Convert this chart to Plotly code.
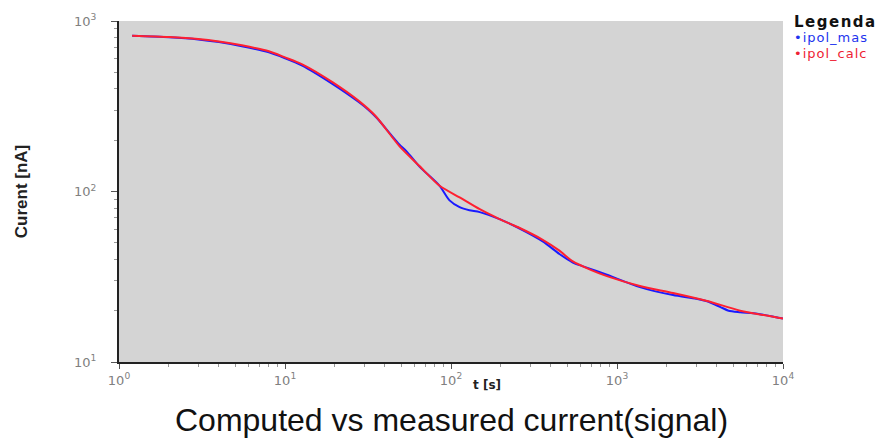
import plotly.graph_objects as go

# measured current (ipol_mas)
t_mas = [1.2, 2.0, 3.0, 4.0, 5.5, 8.0, 10, 12.7, 19.3, 27.8, 32, 36, 44, 49, 54, 64.6, 85.4, 98, 112.7, 129, 149, 196, 252, 357, 450, 542, 624, 869, 1374, 2175, 3000, 3490, 4200, 4700, 5520, 7000, 9350, 10000]
i_mas = [819, 803, 780, 752, 712, 655, 605, 548, 428, 335, 300, 268, 212, 188, 172, 140, 108, 88.7, 80.9, 77.6, 75.7, 68.9, 61.5, 51, 43, 38.3, 36.4, 32.5, 27.5, 24.7, 23.5, 22.7, 21.0, 20.0, 19.6, 19.2, 18.2, 18.0]

# computed current (ipol_calc)
t_calc = [1.2, 2.0, 3.0, 4.0, 5.5, 8.0, 10, 12.7, 19.3, 27.8, 35, 49, 64.6, 85.4, 112.7, 149, 196, 252, 357, 450, 542, 700, 869, 1374, 2175, 3490, 5520, 9350, 10000]
i_calc = [819, 805, 785, 759, 720, 665, 612, 557, 438, 340, 278, 184, 141, 108, 92.3, 78.7, 68.9, 61.9, 52.1, 45, 38.9, 34.6, 31.9, 27.9, 25.4, 22.8, 20.0, 18.2, 18.0]

x_tickvals = [1, 10, 100, 1000, 10000]
x_ticktext = ["10<sup>0</sup>", "10<sup>1</sup>", "10<sup>2</sup>", "10<sup>3</sup>", "10<sup>4</sup>"]
y_tickvals = [10, 100, 1000]
y_ticktext = ["10<sup>1</sup>", "10<sup>2</sup>", "10<sup>3</sup>"]
x_minor = [m * 10 ** k for k in range(0, 4) for m in range(2, 10)]
y_minor = [m * 10 ** k for k in range(1, 3) for m in range(2, 10)]

FONT = "Liberation Sans, Arial, sans-serif"
NARROW = "Liberation Sans Narrow, Arial Narrow, Liberation Sans, sans-serif"
WIDE = "DejaVu Sans, Verdana, sans-serif"

L, R, T, B = 119, 108, 16, 78
PW, PH = 891 - L - R, 440 - T - B


def px(x):
    return (x - L) / PW


def py(y):
    return (440 - B - y) / PH


fig = go.Figure()
fig.add_trace(go.Scatter(x=t_mas, y=i_mas, mode="lines", name="ipol_mas",
                         line=dict(color="#1a1aff", width=2, shape="spline", smoothing=0.7)))
fig.add_trace(go.Scatter(x=t_calc, y=i_calc, mode="lines", name="ipol_calc",
                         line=dict(color="#ff2030", width=2, shape="spline", smoothing=0.7)))

fig.update_layout(
    width=891, height=440,
    margin=dict(l=L, r=R, t=T, b=B),
    paper_bgcolor="white",
    plot_bgcolor="#d4d4d4",
    font=dict(family=WIDE, color="#808080", size=13),
    showlegend=False,
)
fig.update_xaxes(
    type="log", range=[0, 4],
    tickvals=x_tickvals, ticktext=x_ticktext,
    showgrid=False, zeroline=False,
    showline=True, linecolor="#222222", linewidth=2,
    ticks="outside", ticklen=5, tickcolor="#555555",
    minor=dict(tickvals=x_minor, ticks="outside", ticklen=3, tickcolor="#999999", showgrid=False),
    tickfont=dict(size=13, color="#808080", family=WIDE),
)
fig.update_yaxes(
    type="log", range=[1, 3],
    tickvals=y_tickvals, ticktext=y_ticktext,
    showgrid=False, zeroline=False,
    showline=True, linecolor="#222222", linewidth=2,
    ticks="outside", ticklen=6, tickcolor="#555555",
    minor=dict(tickvals=y_minor, ticks="outside", ticklen=3, tickcolor="#999999", showgrid=False),
    tickfont=dict(size=13, color="#808080", family=WIDE),
    ticklabelstandoff=12,
    title=dict(text="<b>Curent [nA]</b>", font=dict(size=17, color="#222222", family=NARROW), standoff=42),
)

fig.add_annotation(text="<b>t [s]</b>", xref="paper", yref="paper",
                   x=px(487), y=py(385), xanchor="center", yanchor="middle",
                   showarrow=False, font=dict(size=12, color="#222222", family=WIDE))

fig.add_annotation(text="Computed vs measured current(signal)", xref="paper", yref="paper",
                   x=px(451), y=py(421), xanchor="center", yanchor="middle",
                   showarrow=False, font=dict(size=32, color="#111111", family=FONT))

fig.add_annotation(text="<span style='letter-spacing:1.5px'><b>Legenda</b></span>", xref="paper", yref="paper",
                   x=px(792), y=py(17), xanchor="left", yanchor="middle",
                   showarrow=False, font=dict(size=15, color="#111111", family=WIDE))
fig.add_annotation(text="<span style='letter-spacing:1px'>•ipol_mas</span>", xref="paper", yref="paper",
                   x=px(792), y=py(33), xanchor="left", yanchor="middle",
                   showarrow=False, font=dict(size=13, color="#2233ee", family=WIDE))
fig.add_annotation(text="<span style='letter-spacing:1px'>•ipol_calc</span>", xref="paper", yref="paper",
                   x=px(792), y=py(49), xanchor="left", yanchor="middle",
                   showarrow=False, font=dict(size=13, color="#ee2233", family=WIDE))

fig.write_html("out.html")
